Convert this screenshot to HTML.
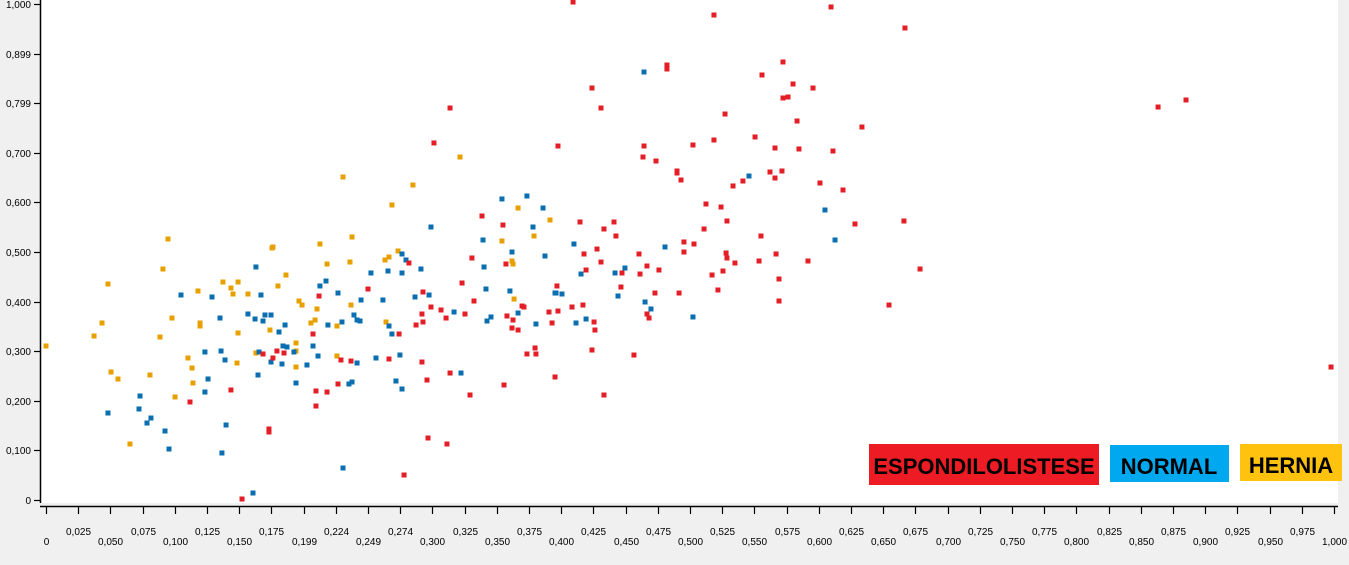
<!DOCTYPE html>
<html><head><meta charset="utf-8"><style>
html,body{margin:0;padding:0;background:#f0f0f0;width:1349px;height:565px;overflow:hidden}
svg{display:block}
text{font-family:"Liberation Sans",sans-serif}
</style></head><body>
<svg id="chart" width="1349" height="565" xmlns="http://www.w3.org/2000/svg">
<rect x="40" y="0" width="1298" height="503" fill="#ffffff"/>
<g id="marks"></g>
<g id="axes"></g>
<g>
<rect x="869" y="444" width="230" height="41" fill="#ed1c24"/>
<text x="984" y="474" text-anchor="middle" font-size="22" font-weight="bold" fill="#000">ESPONDILOLISTESE</text>
<rect x="1110" y="445" width="119" height="37" fill="#00a8f0"/>
<text x="1169" y="474" text-anchor="middle" font-size="22" font-weight="bold" fill="#000">NORMAL</text>
<rect x="1240" y="444" width="102" height="37" fill="#ffc20e"/>
<text x="1291" y="473" text-anchor="middle" font-size="22" font-weight="bold" fill="#000">HERNIA</text>
</g>
</svg>
<script>
const xTickValues=[0,0.025,0.05,0.075,0.1,0.125,0.15,0.175,0.2,0.225,0.25,0.275,0.3,0.325,0.35,0.375,0.4,0.425,0.45,0.475,0.5,0.525,0.55,0.575,0.6,0.625,0.65,0.675,0.7,0.725,0.75,0.775,0.8,0.825,0.85,0.875,0.9,0.925,0.95,0.975,1.0];
const xTickLabels=["0","0,025","0,050","0,075","0,100","0,125","0,150","0,175","0,199","0,224","0,249","0,274","0,300","0,325","0,350","0,375","0,400","0,425","0,450","0,475","0,500","0,525","0,550","0,575","0,600","0,625","0,650","0,675","0,700","0,725","0,750","0,775","0,800","0,825","0,850","0,875","0,900","0,925","0,950","0,975","1,000"];
const yTickValues=[0,0.1,0.2,0.3,0.4,0.5,0.6,0.7,0.8,0.9,1.0];
const yTickLabels=["0","0,100","0,200","0,300","0,400","0,500","0,600","0,700","0,799","0,899","1,000"];

const espX=[.1685,.1762,.1793,.1848,.1436,.1118,.1731,.1731,.1522,.3385,.3548,.3307,.2818,.3571,.3230,.3967,.25,.2120,.2927,.3323,.2989,.3067,.2919,.3106,.3253,.2927,.2873,.3696,.3711,.3579,.3626,.3618,.3665,.3905,.3975,.3929,.2073,.2741,.2290,.2368,.2663,.2919,.2267,.2096,.2182,.2096,.2958,.3137,.3292,.3556,.3734,.3804,.3797,.3952,.2966,.3113,.2780,.4092,.5186,.6095,.6669,.4821,.4821,.4239,.4309,.5722,.5559,.5800,.5955,.5722,.5761,.5272,.5831,.6335,.3975,.4643,.4635,.4736,.4899,.4899,.4930,.5023,.5186,.5505,.5660,.5846,.6110,.5621,.5714,.5660,.5411,.5334,.6009,.6188,.3137,.3012,.5124,.5241,.4146,.4410,.4332,.4425,.5287,.5109,.6281,.6661,.5551,.4953,.5031,.4953,.4278,.4177,.4604,.5280,.5287,.5349,.4309,.5668,.5536,.5916,.6786,.4193,.4472,.4666,.4612,.4759,.5171,.5256,.5691,.4464,.4728,.4915,.5217,.5691,.6545,.4084,.4169,.4255,.4262,.4666,.4682,.4239,.4565,.4332,.8634,.8851,.9977];
const espY=[.2944,.2863,.3004,.2964,.2218,.1976,.1431,.1371,.002,.5726,.5544,.4879,.4778,.4758,.4375,.4315,.4254,.4113,.4194,.4012,.3891,.3831,.3750,.3669,.375,.3589,.3528,.3911,.3891,.3710,.3629,.3468,.3427,.3790,.3810,.3569,.3347,.3347,.2823,.2802,.2843,.2782,.2339,.2198,.2177,.1895,.2419,.2560,.2117,.2319,.2944,.2944,.3065,.2480,.1250,.1129,.0504,1.004,.9778,.9940,.9516,.8770,.8690,.8306,.7903,.8831,.8569,.8387,.8306,.8105,.8125,.7782,.7641,.7520,.7137,.7137,.6915,.6835,.6633,.6593,.6452,.7157,.7258,.7319,.7097,.7077,.7036,.6613,.6633,.6492,.6431,.6331,.6391,.6250,.7903,.7198,.5968,.5907,.5605,.5605,.5464,.5323,.5625,.5464,.5565,.5625,.5323,.5202,.5161,.5,.5060,.4960,.4960,.4980,.4879,.4778,.4798,.4960,.4819,.4819,.4657,.4637,.4577,.4718,.4556,.4637,.4536,.4617,.4456,.4294,.4173,.4173,.4234,.4012,.3931,.3891,.3931,.3589,.3427,.3750,.3669,.3024,.2923,.2117,.7923,.8065,.2681];

const normX=[.1630,.1048,.1289,.1669,.1351,.1568,.1623,.1685,.1700,.1747,.1856,.1809,.1234,.1359,.1390,.1654,.1840,.1871,.1925,.1747,.1832,.1258,.1646,.1941,.1234,.0730,.0722,.0481,.0815,.0784,.0924,.1398,.0955,.1366,.1607,.3540,.3734,.3859,.3781,.2989,.3393,.3618,.3874,.2764,.2795,.3401,.2911,.2523,.2655,.2764,.2174,.2127,.2267,.3416,.3602,.3952,.2446,.2616,.2865,.2974,.3168,.2391,.2415,.2438,.2298,.2189,.2663,.3455,.3424,.3665,.3804,.2686,.2073,.2112,.2026,.2415,.2562,.2748,.2352,.2376,.2717,.2764,.3222,.2306,.4643,.5458,.6048,.6126,.4099,.4806,.4495,.4154,.4418,.3960,.4006,.4441,.4651,.4697,.5023,.4193,.4115];
const normY=[.4698,.4133,.4093,.4133,.3669,.375,.3649,.3609,.3730,.3730,.3528,.3387,.2984,.3004,.2823,.2984,.3105,.3085,.2984,.2782,.2742,.2440,.2520,.2359,.2177,.2097,.1835,.1754,.1653,.1552,.1391,.1512,.1028,.0948,.0141,.6069,.6129,.5887,.5504,.5504,.5242,.5,.4919,.4960,.4839,.4698,.4657,.4577,.4617,.4577,.4415,.4315,.4173,.4254,.4214,.4173,.4032,.4032,.4093,.4133,.3790,.3730,.3629,.3609,.3589,.3528,.3508,.3690,.3609,.3770,.3548,.3347,.3105,.2903,.2722,.2762,.2863,.2923,.2339,.2379,.2399,.2238,.2560,.0645,.8629,.6532,.5847,.5242,.5161,.5101,.4677,.4556,.4577,.4173,.4153,.4113,.3992,.3851,.3690,.3649,.3569];

const hernX=[.0947,.0908,.0481,.1180,.1374,.1436,.1491,.1452,.1568,.1762,.1755,.1863,.1801,.1964,.0435,.0978,.1196,.1196,.1739,0,.0373,.0885,.1491,.1102,.1134,.0505,.0559,.0807,.1141,.1002,.1483,.1630,.1941,.1941,.1941,.0652,.2306,.2849,.2686,.3665,.3913,.3789,.3540,.2127,.2376,.2733,.2663,.2632,.2182,.2360,.3618,.3626,.1988,.2104,.2368,.3634,.2089,.2057,.2259,.2640,.2259,.3214];
const hernY=[.5262,.4657,.4355,.4214,.4395,.4274,.4395,.4153,.4153,.5101,.5081,.4536,.4315,.4012,.3569,.3669,.3569,.3508,.3427,.3105,.3306,.3286,.3367,.2863,.2661,.2581,.2440,.2520,.2359,.2077,.2762,.2964,.3165,.3004,.2681,.1129,.6512,.6351,.5948,.5887,.5645,.5323,.5222,.5161,.5302,.5020,.4899,.4839,.4758,.4798,.4819,.4758,.3931,.3851,.3931,.4052,.3629,.3569,.3508,.3589,.2903,.6915];

const NS="http://www.w3.org/2000/svg";
const X0=46,X1=1334,Y0=500,Y1=4;
function sx(v){return X0+v*(X1-X0);}
function sy(v){return Y0-v*(Y0-Y1);}
const axes=document.getElementById('axes');
const marks=document.getElementById('marks');
function mk(tag,attrs,parent){const e=document.createElementNS(NS,tag);for(const k in attrs)e.setAttribute(k,attrs[k]);parent.appendChild(e);return e;}

const yl=mk('line',{x1:40.5,y1:0,x2:40.5,y2:503,stroke:'#000','stroke-width':1.5},axes);


const xl=mk('line',{x1:40,y1:506.5,x2:1338,y2:506.5,stroke:'#000','stroke-width':1.5},axes);



yTickValues.forEach((v,i)=>{
  const y=Math.round(sy(v))+0.5;
  const t=mk('line',{x1:34,y1:y,x2:40,y2:y,stroke:'#000','stroke-width':1.2},axes);
  
  
  const l=mk('text',{x:31,y:y+3.5,'text-anchor':'end','font-size':10,fill:'#000'},axes);
  l.textContent=yTickLabels[i];
  
  
});
xTickValues.forEach((v,i)=>{
  const x=Math.round(sx(v))+0.5;
  const t=mk('line',{x1:x,y1:507,x2:x,y2:514,stroke:'#000','stroke-width':1.2},axes);
  
  
  const l=mk('text',{x:x,y:(i%2===0)?545:535,'text-anchor':'middle','font-size':10,fill:'#000'},axes);
  l.textContent=xTickLabels[i];
  
  
});

function drawSeries(xs,ys,color,name){
  for(let i=0;i<xs.length;i++){
    const r=mk('rect',{x:sx(xs[i])-2.5,y:sy(ys[i])-2.5,width:5,height:5,fill:color},marks);
    
    
  }
}
drawSeries(hernX,hernY,'#e8a000','point-hernia');
drawSeries(normX,normY,'#0a6eb0','point-normal');
drawSeries(espX,espY,'#e31e26','point-espondilolistese');
</script>
</body></html>
